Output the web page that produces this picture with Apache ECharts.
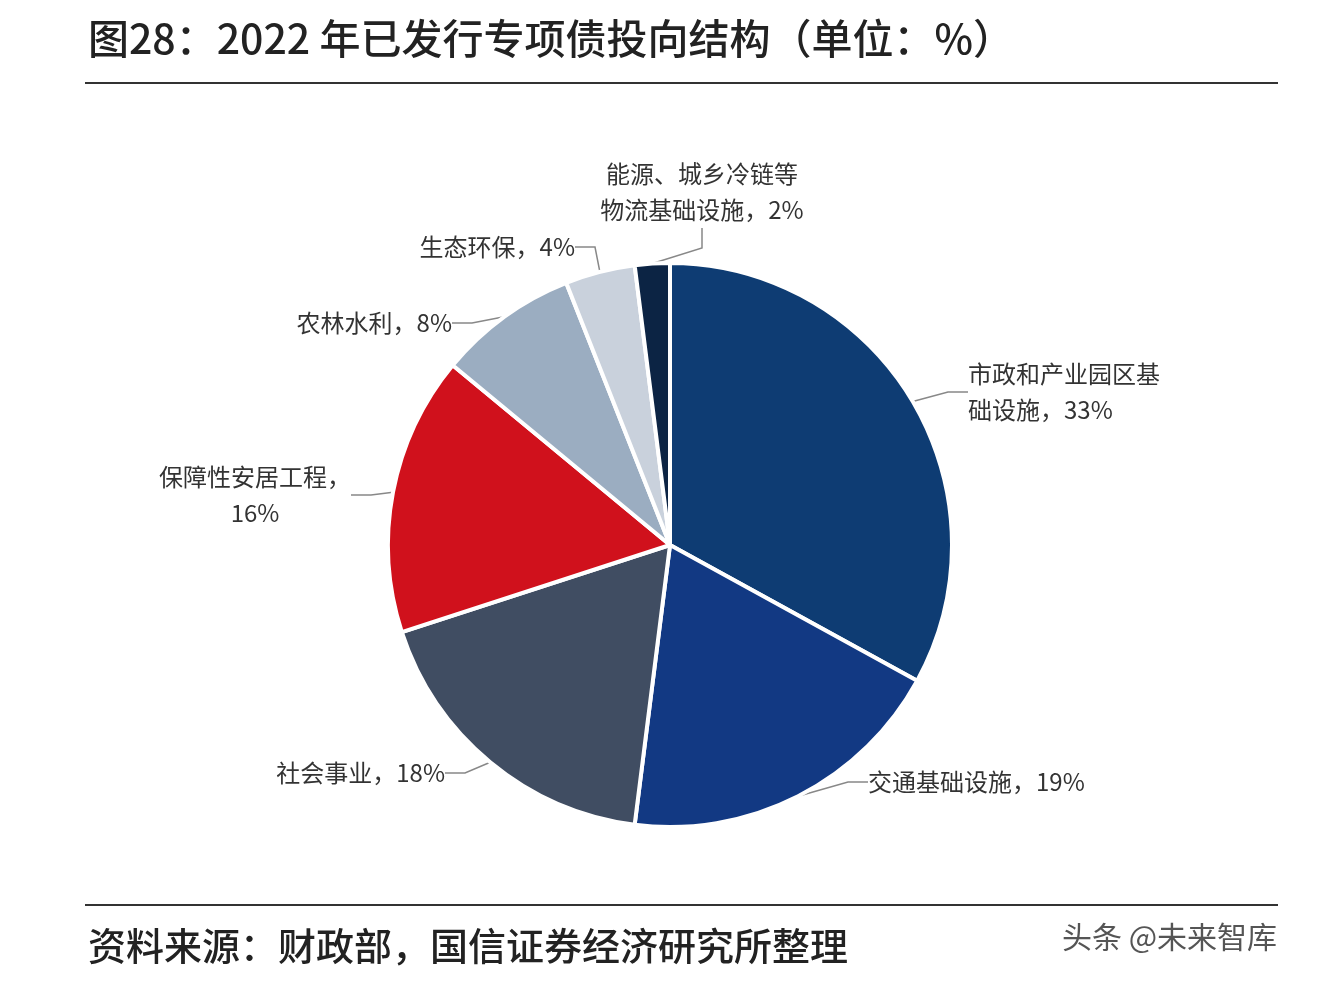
<!DOCTYPE html>
<html><head><meta charset="utf-8">
<script src="https://cdn.jsdelivr.net/npm/echarts@6/dist/echarts.min.js"></script>
<style>html,body{margin:0;padding:0;background:#fff}#c{width:1336px;height:988px}</style>
</head><body><div id="c"></div>
<script>
const categories = ['市政和产业园区基础设施','交通基础设施','社会事业','保障性安居工程','农林水利','生态环保','能源、城乡冷链等物流基础设施'];
const labelTexts = ['市政和产业园区基\n础设施，33%','交通基础设施，19%','社会事业，18%','保障性安居工程，\n16%','农林水利，8%','生态环保，4%','能源、城乡冷链等\n物流基础设施，2%'];
const values = [33,19,18,16,8,4,2];
const colors = ['#0e3c73','#123983','#404d62','#d0111c','#9badc1','#c9d1dc','#0c2444'];
const labelPos = [[968,392,'left'],[868,782,'left'],[445,773,'right'],[255,495,'center'],[452,323,'right'],[575,247,'right'],[702,192,'center']];
const chart = echarts.init(document.getElementById('c'));
const F = '"Noto Sans CJK SC", sans-serif';
chart.setOption({
  animation:false,
  graphic:[
    {type:'text',left:88,top:18,style:{text:'图28：2022 年已发行专项债投向结构（单位：%）',font:'500 41px '+F,fill:'#222',letterSpacing:2}},
    {type:'line',shape:{x1:85,y1:83,x2:1278,y2:83},style:{stroke:'#333',lineWidth:2}},
    {type:'line',shape:{x1:85,y1:905,x2:1278,y2:905},style:{stroke:'#333',lineWidth:2}},
    {type:'text',left:88,top:927,style:{text:'资料来源：财政部，国信证券经济研究所整理',font:'500 38px '+F,fill:'#222',letterSpacing:2}},
    {type:'text',left:1062,top:922,style:{text:'头条 @未来智库',font:'30px '+F,fill:'#555'}}
  ],
  series:[{
    type:'pie',center:[670,545],radius:[0,282],startAngle:90,clockwise:true,
    itemStyle:{borderColor:'#fff',borderWidth:4},
    label:{show:true,fontFamily:F,fontSize:24,color:'#333',lineHeight:36,
      formatter:p=>labelTexts[p.dataIndex]},
    labelLine:{show:true,length:25,length2:20,lineStyle:{color:'#888',width:1.5}},
    labelLayout:p=>{const L=labelPos[p.dataIndex];return {x:L[0],y:L[1],align:L[2],verticalAlign:'middle'};},
    data:categories.map((c,i)=>({name:c,value:values[i],itemStyle:{color:colors[i]}}))
  }]
});
</script></body></html>
